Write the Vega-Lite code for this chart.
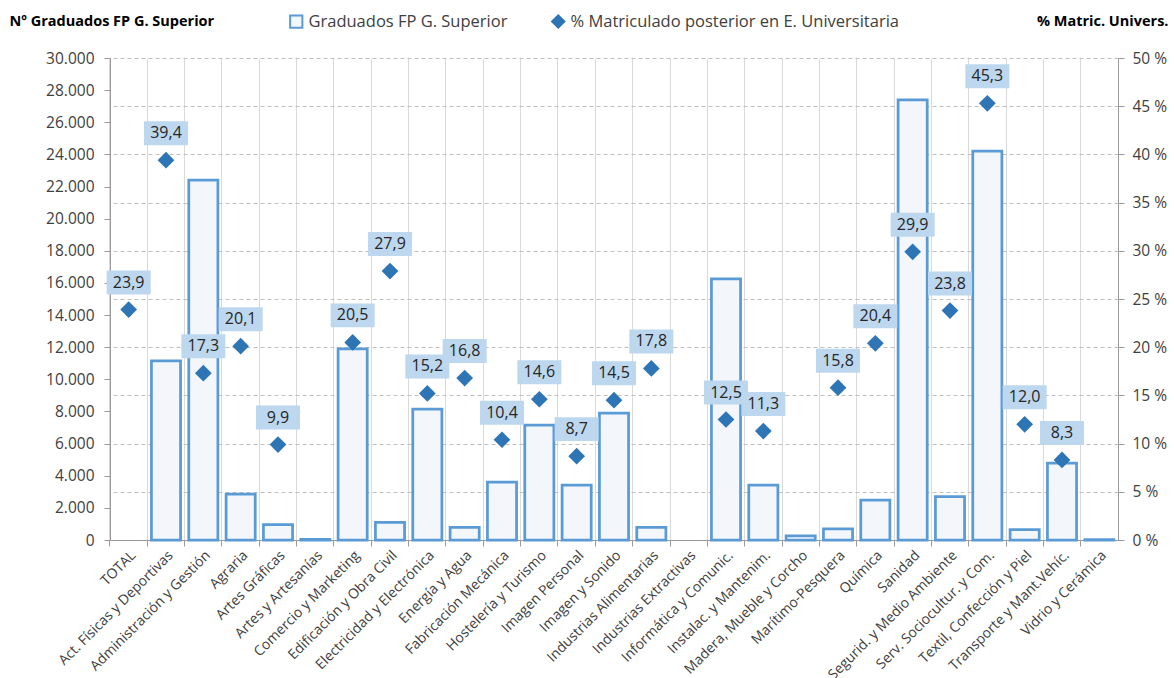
{
  "$schema": "https://vega.github.io/schema/vega-lite/v6.json",
  "width": 1008,
  "height": 482,
  "autosize": {"type": "none"},
  "padding": {"left": 110, "top": 58, "right": 56, "bottom": 138},
  "background": "white",
  "config": {
    "locale": {"number": {"decimal": ",", "thousands": ".", "grouping": [3], "currency": ["", " €"]}},
    "font": "Open Sans",
    "view": {"stroke": null},
    "axis": {"labelFont": "Open Sans", "labelColor": "#404040", "domainColor": "#9A9A9A", "tickColor": "#9A9A9A", "titleFont": "Open Sans"},
    "legend": {"labelFont": "Open Sans"}
  },
  "data": {
    "values": [
      {"familia": "TOTAL", "graduados": null, "pct": 23.9},
      {"familia": "Act. Físicas y Deportivas", "graduados": 11150, "pct": 39.4},
      {"familia": "Administración y Gestión", "graduados": 22400, "pct": 17.3},
      {"familia": "Agraria", "graduados": 2850, "pct": 20.1},
      {"familia": "Artes Gráficas", "graduados": 950, "pct": 9.9},
      {"familia": "Artes y Artesanías", "graduados": 40, "pct": null},
      {"familia": "Comercio y Marketing", "graduados": 11900, "pct": 20.5},
      {"familia": "Edificación y Obra Civil", "graduados": 1100, "pct": 27.9},
      {"familia": "Electricidad y Electrónica", "graduados": 8150, "pct": 15.2},
      {"familia": "Energía y Agua", "graduados": 780, "pct": 16.8},
      {"familia": "Fabricación Mecánica", "graduados": 3600, "pct": 10.4},
      {"familia": "Hostelería y Turismo", "graduados": 7150, "pct": 14.6},
      {"familia": "Imagen Personal", "graduados": 3420, "pct": 8.7},
      {"familia": "Imagen y Sonido", "graduados": 7900, "pct": 14.5},
      {"familia": "Industrias Alimentarias", "graduados": 780, "pct": 17.8},
      {"familia": "Industrias Extractivas", "graduados": null, "pct": null},
      {"familia": "Informática y Comunic.", "graduados": 16250, "pct": 12.5},
      {"familia": "Instalac. y Mantenim.", "graduados": 3420, "pct": 11.3},
      {"familia": "Madera, Mueble y Corcho", "graduados": 250, "pct": null},
      {"familia": "Marítimo-Pesquera", "graduados": 700, "pct": 15.8},
      {"familia": "Química", "graduados": 2480, "pct": 20.4},
      {"familia": "Sanidad", "graduados": 27400, "pct": 29.9},
      {"familia": "Segurid. y Medio Ambiente", "graduados": 2700, "pct": 23.8},
      {"familia": "Serv. Sociocultur. y Com.", "graduados": 24200, "pct": 45.3},
      {"familia": "Textil, Confección y Piel", "graduados": 650, "pct": 12.0},
      {"familia": "Transporte y Mant.Vehíc.", "graduados": 4780, "pct": 8.3},
      {"familia": "Vidrio y Cerámica", "graduados": 30, "pct": null}
    ]
  },
  "layer": [
    {
      "mark": {"type": "bar", "width": {"band": 0.78}, "strokeWidth": 2.75},
      "encoding": {
        "x": {
          "field": "familia", "type": "nominal", "sort": null,
          "scale": {"paddingInner": 0, "paddingOuter": 0, "domain": ["TOTAL", "Act. Físicas y Deportivas", "Administración y Gestión", "Agraria", "Artes Gráficas", "Artes y Artesanías", "Comercio y Marketing", "Edificación y Obra Civil", "Electricidad y Electrónica", "Energía y Agua", "Fabricación Mecánica", "Hostelería y Turismo", "Imagen Personal", "Imagen y Sonido", "Industrias Alimentarias", "Industrias Extractivas", "Informática y Comunic.", "Instalac. y Mantenim.", "Madera, Mueble y Corcho", "Marítimo-Pesquera", "Química", "Sanidad", "Segurid. y Medio Ambiente", "Serv. Sociocultur. y Com.", "Textil, Confección y Piel", "Transporte y Mant.Vehíc.", "Vidrio y Cerámica"]},
          "axis": {"orient": "bottom", "title": null, "labels": false, "bandPosition": 0, "grid": true, "gridColor": "#D9D9D9", "gridWidth": 1, "ticks": true, "tickSize": 6, "domain": true}
        },
        "y": {
          "field": "graduados", "type": "quantitative",
          "scale": {"domain": [0, 30000], "nice": false},
          "axis": {
            "orient": "left", "values": [0, 2000, 4000, 6000, 8000, 10000, 12000, 14000, 16000, 18000, 20000, 22000, 24000, 26000, 28000, 30000],
            "format": ",d", "grid": false, "ticks": true, "tickSize": 6, "labelFontSize": 15.5, "labelColor": "#404040", "labelPadding": 10,
            "title": "Nº Graduados FP G. Superior", "titleAngle": 0, "titleAlign": "left", "titleBaseline": "middle",
            "titleX": -101, "titleY": -37, "titleFontWeight": "bold", "titleFontSize": 14.5, "titleColor": "#000000"
          }
        },
        "fill": {
          "datum": "Graduados FP G. Superior",
          "scale": {"domain": ["Graduados FP G. Superior", "% Matriculado posterior en E. Universitaria"], "range": ["#F3F7FC", "#2E75B6"]},
          "legend": {
            "title": null, "orient": "none", "legendX": 178, "legendY": -45, "direction": "horizontal",
            "labelFontSize": 16.5, "labelColor": "#404040", "labelLimit": 600, "symbolSize": 150, "symbolStrokeWidth": 2, "columnPadding": 40, "labelOffset": 4
          }
        },
        "stroke": {
          "datum": "Graduados FP G. Superior",
          "scale": {"domain": ["Graduados FP G. Superior", "% Matriculado posterior en E. Universitaria"], "range": ["#5B9BD5", "#2E75B6"]}
        }
      }
    },
    {
      "layer": [
        {
          "mark": {"type": "point", "filled": true, "shape": "M-1,-0.545H1V0.545H-1Z", "size": 1936, "color": "#BDD7EE", "opacity": 1, "yOffset": -27},
          "encoding": {
            "x": {
              "field": "familia", "type": "nominal", "sort": null,
              "axis": {"orient": "bottom", "title": null, "labelAngle": -45, "labelFontSize": 14, "labelColor": "#404040", "ticks": false, "domain": false, "grid": false, "labelPadding": 8, "labelOverlap": false, "labelLimit": 300}
            },
            "y": {
              "field": "pct", "type": "quantitative",
              "scale": {"domain": [0, 50], "nice": false},
              "axis": {
                "orient": "right", "values": [0, 5, 10, 15, 20, 25, 30, 35, 40, 45, 50], "labelExpr": "datum.value + ' %'",
                "grid": true, "gridDash": [4, 3], "gridColor": "#BFBFBF", "ticks": true, "tickSize": 6, "labelFontSize": 15.5, "labelColor": "#404040", "labelPadding": 8,
                "title": "% Matric. Univers.", "titleAngle": 0, "titleAlign": "right", "titleBaseline": "middle",
                "titleX": 50, "titleY": -37, "titleFontWeight": "bold", "titleFontSize": 14.5, "titleColor": "#000000"
              }
            }
          }
        },
        {
          "mark": {"type": "text", "fontSize": 16, "color": "#262626", "baseline": "middle", "align": "center", "yOffset": -27, "font": "Open Sans"},
          "encoding": {
            "x": {"field": "familia", "type": "nominal", "sort": null},
            "y": {"field": "pct", "type": "quantitative"},
            "text": {"field": "pct", "type": "quantitative", "format": ",.1f"}
          }
        },
        {
          "mark": {"type": "point", "filled": true, "opacity": 1, "size": 280, "strokeWidth": 0},
          "encoding": {
            "x": {"field": "familia", "type": "nominal", "sort": null},
            "y": {"field": "pct", "type": "quantitative"},
            "fill": {"datum": "% Matriculado posterior en E. Universitaria"},
            "stroke": {"datum": "% Matriculado posterior en E. Universitaria"},
            "shape": {
              "datum": "% Matriculado posterior en E. Universitaria",
              "scale": {"domain": ["Graduados FP G. Superior", "% Matriculado posterior en E. Universitaria"], "range": ["square", "diamond"]}
            }
          }
        }
      ]
    }
  ],
  "resolve": {"scale": {"y": "independent"}, "axis": {"x": "independent"}}
}
